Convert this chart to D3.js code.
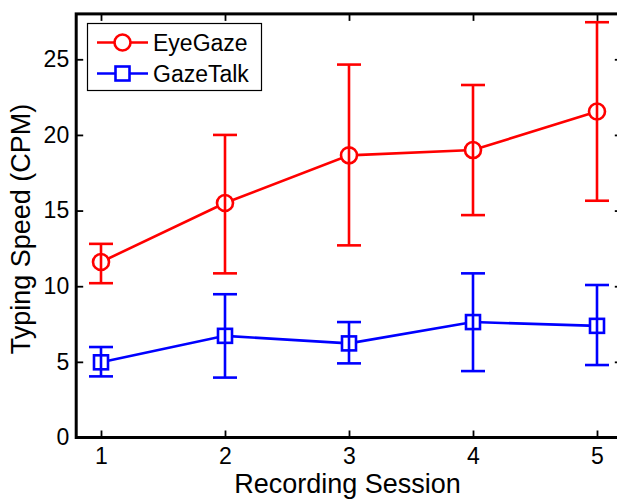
<!DOCTYPE html>
<html>
<head>
<meta charset="utf-8">
<script src="https://cdn.jsdelivr.net/npm/d3@7"></script>
<style>
  html, body { margin: 0; padding: 0; background: #fff; overflow: hidden; }
  text { font-family: Arial, "Liberation Sans", sans-serif; fill: #000; }
</style>
</head>
<body>
<div id="chart"></div>
<script>
const WIDTH = 617;
const HEIGHT = 499;

const sessions = [1, 2, 3, 4, 5];
const xTicks = [1, 2, 3, 4, 5];
const yTicks = [0, 5, 10, 15, 20, 25];

const eyeGazeMean = [11.6, 15.5, 18.65, 19.0, 21.55];
const eyeGazeLow = [10.2, 10.85, 12.7, 14.7, 15.65];
const eyeGazeHigh = [12.8, 20.0, 24.65, 23.3, 27.45];

const gazeTalkMean = [4.97, 6.72, 6.22, 7.63, 7.38];
const gazeTalkLow = [4.04, 3.96, 4.9, 4.39, 4.79];
const gazeTalkHigh = [5.98, 9.47, 7.63, 10.85, 10.08];

const series = [
  { name: 'EyeGaze', color: '#ff0000', marker: 'circle', mean: eyeGazeMean, low: eyeGazeLow, high: eyeGazeHigh },
  { name: 'GazeTalk', color: '#0000ff', marker: 'square', mean: gazeTalkMean, low: gazeTalkLow, high: gazeTalkHigh },
];

const TICK_LEN = 7;
const CAP_HALF = 12;
const CIRCLE_R = 8;
const SQUARE_SIZE = 14;
const LINE_W = 2.6;

const x = d3.scaleLinear().domain([0.8, 5.2]).range([76.2, 621.8]);
const y = d3.scaleLinear().domain([0, 28]).range([437.5, 13.9]);

const svg = d3.select('#chart')
  .append('svg')
  .attr('width', WIDTH)
  .attr('height', HEIGHT);

const [x0, x1] = x.range();
const [y0, y1] = y.range();

function drawMarker(g, kind, cx, cy, color) {
  if (kind === 'circle') {
    g.append('circle')
      .attr('cx', cx).attr('cy', cy).attr('r', CIRCLE_R)
      .attr('fill', '#fff').attr('stroke', color).attr('stroke-width', LINE_W);
  } else {
    g.append('rect')
      .attr('x', cx - SQUARE_SIZE / 2).attr('y', cy - SQUARE_SIZE / 2)
      .attr('width', SQUARE_SIZE).attr('height', SQUARE_SIZE)
      .attr('fill', '#fff').attr('stroke', color).attr('stroke-width', LINE_W);
  }
}

// series lines, error bars, markers
series.forEach((s) => {
  const g = svg.append('g');
  const line = d3.line().x((d, i) => x(sessions[i])).y((d) => y(d));
  g.append('path')
    .attr('d', line(s.mean))
    .attr('fill', 'none')
    .attr('stroke', s.color)
    .attr('stroke-width', LINE_W);

  sessions.forEach((sess, i) => {
    const cx = x(sess);
    g.append('line')
      .attr('x1', cx).attr('x2', cx)
      .attr('y1', y(s.low[i])).attr('y2', y(s.high[i]))
      .attr('stroke', s.color).attr('stroke-width', LINE_W);
    [s.low[i], s.high[i]].forEach((v) => {
      g.append('line')
        .attr('x1', cx - CAP_HALF).attr('x2', cx + CAP_HALF)
        .attr('y1', y(v)).attr('y2', y(v))
        .attr('stroke', s.color).attr('stroke-width', LINE_W);
    });
  });

  sessions.forEach((sess, i) => {
    const half = s.marker === 'circle' ? CIRCLE_R : SQUARE_SIZE / 2;
    drawMarker(g, s.marker, x(sess), y(s.mean[i]), s.color);
    // the error bar stays visible through the marker
    g.append('line')
      .attr('x1', x(sess)).attr('x2', x(sess))
      .attr('y1', y(s.mean[i]) - half)
      .attr('y2', y(s.mean[i]) + half)
      .attr('stroke', s.color).attr('stroke-width', LINE_W);
  });
});

// axes box with inward ticks
const axisG = svg.append('g');

const bottomAxis = d3.axisBottom(x).tickValues(xTicks).tickFormat(d3.format('d'))
  .tickSizeInner(-TICK_LEN).tickSizeOuter(0).tickPadding(10);
axisG.append('g').attr('transform', `translate(0,${y0})`).call(bottomAxis);

const topAxis = d3.axisTop(x).tickValues(xTicks).tickSizeInner(-TICK_LEN).tickSizeOuter(0).tickFormat('');
axisG.append('g').attr('transform', `translate(0,${y1})`).call(topAxis);

const leftAxis = d3.axisLeft(y).tickValues(yTicks).tickFormat(d3.format('d'))
  .tickSizeInner(-TICK_LEN).tickSizeOuter(0).tickPadding(7);
axisG.append('g').attr('transform', `translate(${x0},0)`).call(leftAxis);

const rightAxis = d3.axisRight(y).tickValues(yTicks).tickSizeInner(-TICK_LEN).tickSizeOuter(0).tickFormat('');
axisG.append('g').attr('transform', `translate(${x1},0)`).call(rightAxis);

axisG.selectAll('.domain').remove();
axisG.selectAll('.tick line').attr('stroke', '#000').attr('stroke-width', 1.8);
axisG.selectAll('.tick text')
  .attr('font-size', '23px')
  .attr('font-family', 'Arial, "Liberation Sans", sans-serif')
  .attr('fill', '#000');

axisG.append('rect')
  .attr('x', x0).attr('y', y1)
  .attr('width', x1 - x0).attr('height', y0 - y1)
  .attr('fill', 'none').attr('stroke', '#000').attr('stroke-width', 3);

// axis titles
svg.append('text')
  .attr('x', (232 + 463) / 2)
  .attr('y', 493)
  .attr('text-anchor', 'middle')
  .attr('font-size', '27px')
  .text('Recording Session');

svg.append('text')
  .attr('transform', 'translate(30,229) rotate(-90)')
  .attr('text-anchor', 'middle')
  .attr('font-size', '27px')
  .text('Typing Speed (CPM)');

// legend
const legend = svg.append('g');
legend.append('rect')
  .attr('x', 87.5).attr('y', 23.5)
  .attr('width', 174).attr('height', 67)
  .attr('fill', '#fff').attr('stroke', '#000').attr('stroke-width', 1.2);

series.forEach((s, i) => {
  const ly = 42.5 + i * 31;
  legend.append('line')
    .attr('x1', 97).attr('x2', 148)
    .attr('y1', ly).attr('y2', ly)
    .attr('stroke', s.color).attr('stroke-width', LINE_W);
  drawMarker(legend, s.marker, 122.5, ly, s.color);
  legend.append('text')
    .attr('x', 153)
    .attr('y', ly + 8)
    .attr('font-size', '23px')
    .text(s.name);
});
</script>
</body>
</html>
